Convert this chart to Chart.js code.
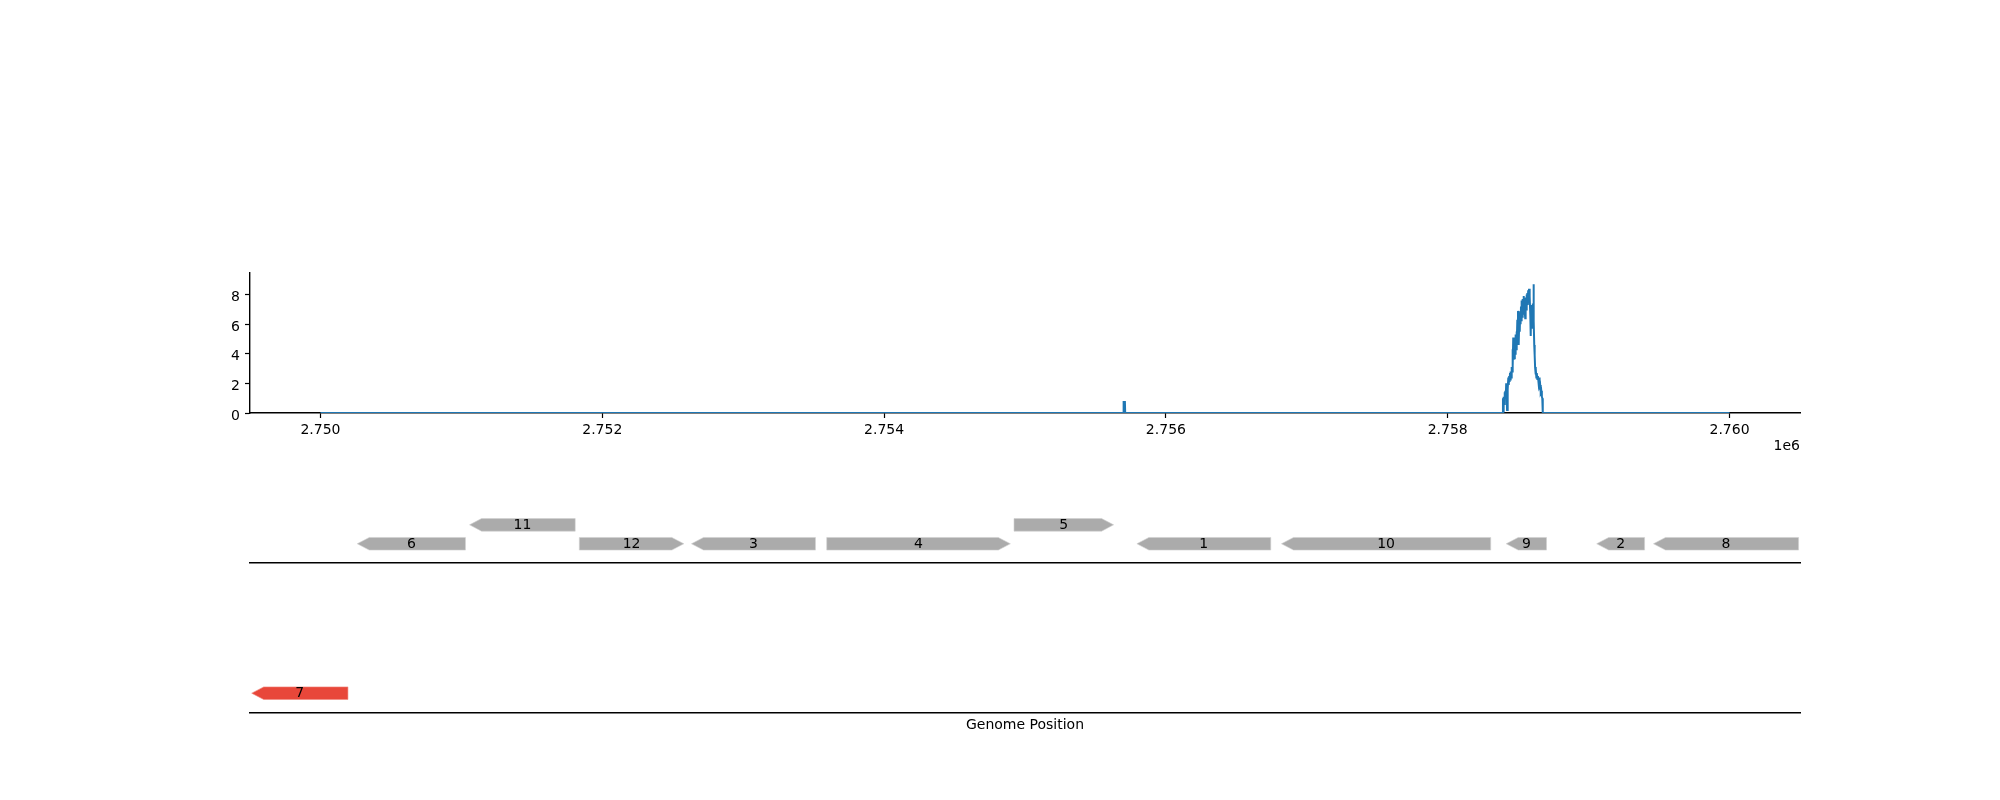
<!DOCTYPE html>
<html>
<head>
<meta charset="utf-8">
<script src="https://cdn.jsdelivr.net/npm/chart.js@4.4.1/dist/chart.umd.min.js"></script>
<style>
  html, body { margin: 0; padding: 0; background: #ffffff; }
  #wrap { position: relative; width: 2000px; height: 800px; }
  canvas { position: absolute; left: 0; top: 0; }
</style>
</head>
<body>
<div id="wrap">
  <canvas id="cov" width="2000" height="800"></canvas>
  <canvas id="genes" width="2000" height="800"></canvas>
  <canvas id="track7" width="2000" height="800"></canvas>
</div>
<script>
// ---------------- DATA ----------------
const xRange = [2749500, 2760500];
const xTicks = [2750000, 2752000, 2754000, 2756000, 2758000, 2760000];
const yTicks = [0, 2, 4, 6, 8];
const yMax = 9.46;

// coverage (genome position, depth)
const covPos = [
  2750000, 2755698, 2755700, 2755709, 2755711, 2758390,
  2758392, 2758394, 2758397, 2758400, 2758403, 2758406, 2758409, 2758412, 2758415, 2758418,
  2758421, 2758424, 2758427, 2758430, 2758433, 2758436, 2758439, 2758442, 2758445, 2758448,
  2758451, 2758454, 2758457, 2758460, 2758462, 2758465, 2758467, 2758470, 2758473, 2758476,
  2758479, 2758482, 2758485, 2758488, 2758491, 2758494, 2758497, 2758499, 2758502, 2758505,
  2758508, 2758511, 2758514, 2758517, 2758520, 2758523, 2758526, 2758529, 2758532, 2758535,
  2758538, 2758541, 2758544, 2758547, 2758550, 2758553, 2758556, 2758559, 2758562, 2758565,
  2758568, 2758571, 2758574, 2758577, 2758580, 2758583, 2758586, 2758589, 2758591, 2758594,
  2758597, 2758600, 2758603, 2758605, 2758607, 2758608, 2758610, 2758612, 2758614, 2758617,
  2758620, 2758623, 2758626, 2758629, 2758632, 2758636, 2758640, 2758644, 2758648, 2758652,
  2758656, 2758660, 2758664, 2758668, 2758671, 2758673, 2758676, 2760000
];
const covVal = [
  0, 0, 0.75, 0.75, 0, 0,
  1.0, 0.1, 1.1, 0.6, 1.4, 1.0, 1.5, 1.1, 2.0, 1.3,
  0.2, 1.9, 1.6, 2.4, 1.9, 2.5, 2.1, 2.7, 2.2, 2.8,
  2.4, 3.1, 2.8, 4.3, 3.2, 5.1, 3.6, 4.4, 3.7, 5.0,
  4.0, 5.3, 4.3, 5.5, 4.6, 6.3, 5.0, 6.9, 5.3, 4.6,
  6.4, 5.5, 6.8, 6.0, 7.2, 6.2, 7.6, 6.5, 7.7, 6.7,
  7.9, 7.0, 7.8, 6.8, 6.4, 7.6, 7.0, 8.0, 7.2, 8.1,
  7.3, 8.3, 7.5, 8.4, 7.4, 7.9, 6.6, 5.2, 7.0, 7.3,
  6.0, 7.0, 5.7, 7.4, 6.3, 8.7, 6.8, 6.2, 4.6, 3.9,
  3.1, 2.6, 3.0, 2.4, 2.7, 2.3, 2.5, 2.1, 2.4, 1.8,
  1.9, 1.4, 1.5, 1.1, 1.0, 0.6, 0, 0
];

// genes in the main track
const geneLabels = ['1', '2', '3', '4', '5', '6', '8', '9', '10', '11', '12'];
const geneStart  = [2755794, 2759057, 2752633, 2753593, 2754922, 2750261, 2759460, 2758415, 2756820, 2751058, 2751837];
const geneEnd    = [2756744, 2759397, 2753513, 2754896, 2755629, 2751029, 2760490, 2758701, 2758305, 2751808, 2752579];
const geneStrand = [-1, -1, -1, 1, 1, -1, -1, -1, -1, -1, 1];
const geneLevel  = [0, 0, 0, 0, 1, 0, 0, 0, 0, 1, 0];

// highlighted gene in the lower track
const hlLabels = ['7'];
const hlStart  = [2749512];
const hlEnd    = [2750195];
const hlStrand = [-1];
const hlLevel  = [0];

// ---------------- STYLE ----------------
const FONT = { family: "'DejaVu Sans', sans-serif", size: 14 };
const BLACK = '#000000';
const LINE_BLUE = '#1f77b4';
const GENE_GREY = '#ababab';
const GENE_RED = '#e8473a';
const SPINE_W = 1.4;

Chart.defaults.font.family = FONT.family;
Chart.defaults.font.size = FONT.size;
Chart.defaults.color = BLACK;

function makeGenes(labels, starts, ends, strands, levels) {
  return labels.map((l, i) => ({ label: l, start: starts[i], end: ends[i], strand: strands[i], level: levels[i] }));
}

const geneArrowPlugin = {
  id: 'geneArrows',
  afterDatasetsDraw(chart, args, opts) {
    const { ctx, chartArea } = chart;
    const x = chart.scales.x, y = chart.scales.y;
    ctx.save();
    ctx.beginPath();
    ctx.rect(chartArea.left, chartArea.top - 40, chartArea.right - chartArea.left, chartArea.bottom - chartArea.top + 40);
    ctx.clip();
    const h = opts.halfHeight, headLen = opts.head;
    opts.genes.forEach(g => {
      const x1 = x.getPixelForValue(g.start);
      const x2 = x.getPixelForValue(g.end);
      const yc = y.getPixelForValue(g.level);
      const head = Math.min(headLen, x2 - x1);
      ctx.beginPath();
      if (g.strand > 0) {
        ctx.moveTo(x1, yc - h);
        ctx.lineTo(x2 - head, yc - h);
        ctx.lineTo(x2, yc);
        ctx.lineTo(x2 - head, yc + h);
        ctx.lineTo(x1, yc + h);
      } else {
        ctx.moveTo(x2, yc - h);
        ctx.lineTo(x1 + head, yc - h);
        ctx.lineTo(x1, yc);
        ctx.lineTo(x1 + head, yc + h);
        ctx.lineTo(x2, yc + h);
      }
      ctx.closePath();
      ctx.fillStyle = opts.color;
      ctx.fill();
      ctx.lineWidth = 0.6;
      ctx.strokeStyle = opts.edge;
      ctx.stroke();
      ctx.fillStyle = BLACK;
      ctx.font = `${FONT.size}px ${FONT.family}`;
      ctx.textAlign = 'center';
      ctx.textBaseline = 'middle';
      ctx.fillText(g.label, (x1 + x2) / 2, yc + 0.5);
    });
    ctx.restore();
  }
};

const offsetTextPlugin = {
  id: 'offsetText',
  afterDraw(chart, args, opts) {
    const { ctx, chartArea } = chart;
    ctx.save();
    ctx.fillStyle = BLACK;
    ctx.font = `${FONT.size}px ${FONT.family}`;
    ctx.textAlign = 'right';
    ctx.textBaseline = 'middle';
    ctx.fillText(opts.text, chartArea.right, chartArea.bottom + 33);
    ctx.restore();
  }
};

// ---------------- COVERAGE CHART ----------------
new Chart(document.getElementById('cov'), {
  type: 'line',
  data: {
    datasets: [{
      data: covPos.map((p, i) => ({ x: p, y: covVal[i] })),
      borderColor: LINE_BLUE,
      borderWidth: 2,
      pointRadius: 0,
      tension: 0,
      fill: false
    }]
  },
  options: {
    responsive: false,
    animation: false,
    events: [],
    layout: { padding: { left: 200, right: 200, top: 273, bottom: 327 } },
    plugins: { legend: { display: false }, tooltip: { enabled: false }, offsetText: { text: '1e6' } },
    scales: {
      x: {
        type: 'linear',
        min: xRange[0], max: xRange[1],
        z: 1,
        afterFit: s => { s.height = 60; },
        afterBuildTicks: s => { s.ticks = xTicks.map(v => ({ value: v })); },
        grid: { display: true, drawOnChartArea: false, drawTicks: true, tickLength: 5, color: BLACK, tickWidth: 1.2 },
        border: { display: true, color: BLACK, width: SPINE_W },
        ticks: { color: BLACK, font: FONT, padding: 4, maxRotation: 0, autoSkip: false,
                 callback: v => (v / 1e6).toFixed(3) }
      },
      y: {
        type: 'linear',
        min: 0, max: yMax,
        z: 1,
        afterFit: s => { s.width = 50; },
        afterBuildTicks: s => { s.ticks = yTicks.map(v => ({ value: v })); },
        grid: { display: true, drawOnChartArea: false, drawTicks: true, tickLength: 5, color: BLACK, tickWidth: 1.2 },
        border: { display: true, color: BLACK, width: SPINE_W },
        ticks: { color: BLACK, font: FONT, padding: 5, labelOffset: 3, callback: v => String(v) }
      }
    }
  },
  plugins: [offsetTextPlugin]
});

// ---------------- GENE TRACK ----------------
new Chart(document.getElementById('genes'), {
  type: 'scatter',
  data: { datasets: [] },
  options: {
    responsive: false,
    animation: false,
    events: [],
    layout: { padding: { left: 250, right: 200, top: 487, bottom: 237.3 } },
    plugins: {
      legend: { display: false }, tooltip: { enabled: false },
      geneArrows: { genes: makeGenes(geneLabels, geneStart, geneEnd, geneStrand, geneLevel),
                    color: GENE_GREY, edge: '#d0d0d0', halfHeight: 6.3, head: 12 }
    },
    scales: {
      x: {
        type: 'linear', min: xRange[0], max: xRange[1],
        afterFit: s => { s.height = 0; },
        grid: { display: false, drawTicks: false },
        border: { display: true, color: BLACK, width: SPINE_W },
        ticks: { display: false }
      },
      y: { type: 'linear', min: -1, max: 3, display: false }
    }
  },
  plugins: [geneArrowPlugin]
});

// ---------------- HIGHLIGHT TRACK ----------------
new Chart(document.getElementById('track7'), {
  type: 'scatter',
  data: { datasets: [] },
  options: {
    responsive: false,
    animation: false,
    events: [],
    layout: { padding: { left: 250, right: 200, top: 655, bottom: 66.7 } },
    plugins: {
      legend: { display: false }, tooltip: { enabled: false },
      geneArrows: { genes: makeGenes(hlLabels, hlStart, hlEnd, hlStrand, hlLevel),
                    color: GENE_RED, edge: '#f08a80', halfHeight: 6.3, head: 12 }
    },
    scales: {
      x: {
        type: 'linear', min: xRange[0], max: xRange[1],
        afterFit: s => { s.height = 21; },
        grid: { display: false, drawTicks: false },
        border: { display: true, color: BLACK, width: SPINE_W },
        ticks: { display: false },
        title: { display: true, text: 'Genome Position', color: BLACK, font: FONT, padding: 0 }
      },
      y: { type: 'linear', min: -1, max: 2, display: false }
    }
  },
  plugins: [geneArrowPlugin]
});
</script>
</body>
</html>
